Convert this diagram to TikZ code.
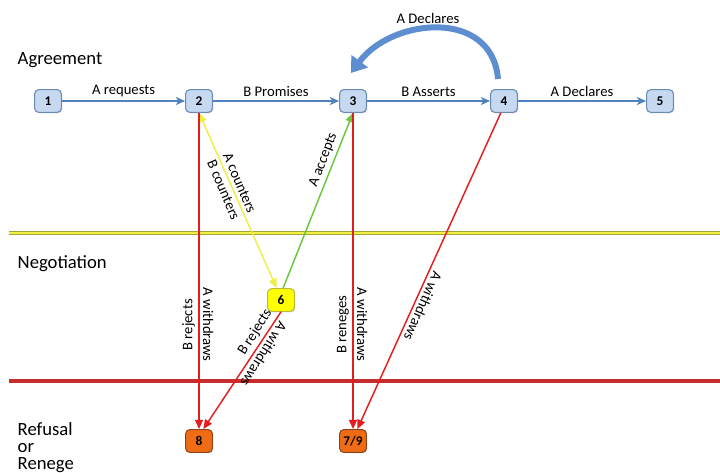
\documentclass[tikz,border=0pt]{standalone}
\usepackage{fontspec}
\setmainfont{Carlito}
\usetikzlibrary{arrows.meta, shadows}

\definecolor{boxfill}{RGB}{198,217,241}
\definecolor{boxline}{RGB}{105,138,180}
\definecolor{flowblue}{RGB}{79,129,189}
\definecolor{curveblue}{RGB}{92,142,208}
\definecolor{negfill}{RGB}{255,255,0}
\definecolor{negline}{RGB}{185,185,60}
\definecolor{failfill}{RGB}{240,108,20}
\definecolor{failline}{RGB}{140,70,25}
\definecolor{rejred}{RGB}{228,30,30}
\definecolor{cntyellow}{RGB}{238,238,70}
\definecolor{accgreen}{RGB}{105,200,60}
\definecolor{bandyellow}{RGB}{240,240,70}
\definecolor{bandyedge}{RGB}{165,165,55}
\definecolor{bandred}{RGB}{198,45,45}
\definecolor{bandredge}{RGB}{150,30,30}

\begin{document}
\begin{tikzpicture}[
    x=0.75pt, y=-0.75pt,
    stage/.style={rectangle, rounded corners=3pt, draw=boxline, fill=boxfill,
        line width=0.8pt, minimum width=20pt, minimum height=17pt, inner sep=1pt,
        font=\bfseries\fontsize{10}{12}\selectfont, text=black,
        drop shadow={opacity=0.25, shadow xshift=0.8pt, shadow yshift=-0.8pt}},
    negstage/.style={stage, draw=negline, fill=negfill},
    failstage/.style={stage, draw=failline, fill=failfill},
    flow/.style={-{Stealth[length=7pt, width=6pt, inset=2pt]}, line width=1.5pt, flowblue},
    rej/.style={-{Triangle[length=7pt, width=6pt]}, line width=1.1pt, rejred},
    lbl/.style={font=\fontsize{11}{13}\selectfont, text=black, inner sep=2.5pt},
    zone/.style={font=\fontsize{14}{12.8}\selectfont, align=left}
]
\useasboundingbox (0,0) rectangle (720,473);

% zone bands
\draw[draw=bandyedge, double=bandyellow, double distance=2.2pt, line width=0.5pt]
    (9,233) -- (722,233);
\draw[draw=bandredge, double=bandred, double distance=2.8pt, line width=0.4pt]
    (9,381) -- (722,381);

% zone names
\node[zone, anchor=west] (agree) at (13,60) {Agreement};
\node[zone, anchor=west] (nego) at (13,264) {Negotiation};
\node[zone, anchor=north west] (refuse) at (13,418) {Refusal\\or\\Renege};

% states
\node[stage] (s1) at (48,101) {1};
\node[stage] (s2) at (199,101) {2};
\node[stage] (s3) at (353,101) {3};
\node[stage] (s4) at (504,101) {4};
\node[stage] (s5) at (660,101) {5};
\node[negstage] (s6) at (281,300) {6};
\node[failstage] (s8) at (199,441) {8};
\node[failstage] (s79) at (353,441) {7/9};

% agreement flow
\draw[flow] (s1) -- node[lbl, above] {A requests} (s2);
\draw[flow] (s2) -- node[lbl, above] {B Promises} (s3);
\draw[flow] (s3) -- node[lbl, above] {B Asserts} (s4);
\draw[flow] (s4) -- node[lbl, above] {A Declares} (s5);
\coordinate (curvetail) at (498,79);
\coordinate (curvetip) at (351,73);
\draw[-{Triangle[length=11pt, width=15pt]}, line width=4.5pt, curveblue]
    (curvetail) .. controls (492,8) and (392,18) .. (curvetip);
\node[lbl] (declare) at (428,18) {A Declares};

% negotiation
\draw[{Triangle[length=7pt, width=6pt]}-{Triangle[length=7pt, width=6pt]},
      line width=1.1pt, cntyellow] (s2.south) -- (s6.110)
    node[pos=0.42, lbl, rotate=-66.8, anchor=south] {A counters}
    node[pos=0.42, lbl, rotate=-66.8, anchor=north] {B counters};
\draw[-{Triangle[length=7pt, width=6pt]}, line width=1.1pt, accgreen]
    (s6.80) -- node[pos=0.71, lbl, rotate=69.3, anchor=south] {A accepts} (s3.south);

% refusal and renege
\draw[rej] (s2.south) -- (s8.north)
    node[pos=0.67, lbl, rotate=90, anchor=south] {B rejects}
    node[pos=0.67, lbl, rotate=-90, anchor=south] {A withdraws};
\draw[rej] (s6.south) -- (s8.70)
    node[pos=0.22, lbl, rotate=57.7, anchor=south] {B rejects}
    node[pos=0.32, lbl, rotate=-122.3, anchor=south] {A withdraws};
\draw[rej] (s3.south) -- (s79.north)
    node[pos=0.67, lbl, rotate=90, anchor=south] {B reneges}
    node[pos=0.67, lbl, rotate=-90, anchor=south] {A withdraws};
\draw[rej] (s4.255) -- (s79.70)
    node[pos=0.6, lbl, rotate=-114, anchor=south] {A withdraws};
\end{tikzpicture}
\end{document}
